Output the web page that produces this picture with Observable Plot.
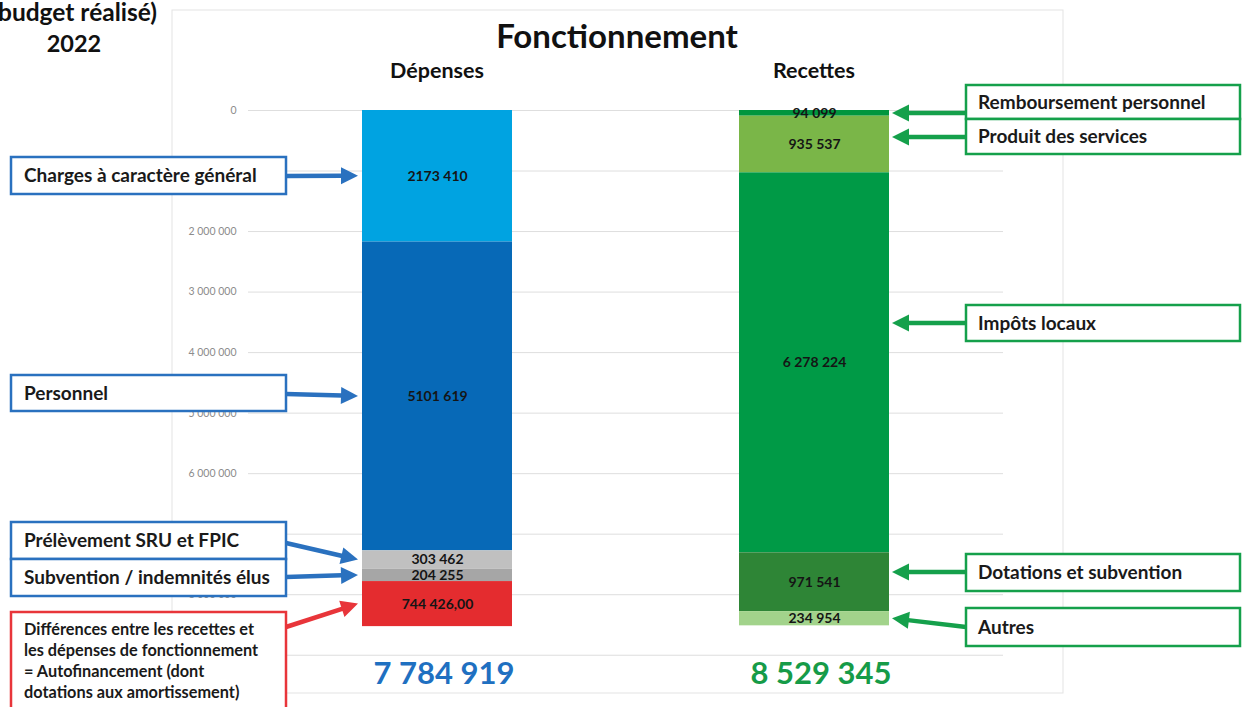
<!DOCTYPE html>
<html><head><meta charset="utf-8">
<script src="https://cdn.jsdelivr.net/npm/d3@7"></script>
<script src="https://cdn.jsdelivr.net/npm/@observablehq/plot@0.6"></script>
<style>body{margin:0;background:#fff;} svg{display:block}</style>
</head><body><div id="chart"></div>
<script>
// ---------- DATA ----------
const sides = ["Dépenses", "Recettes"];
const depCategories = ["Charges à caractère général", "Personnel", "Prélèvement SRU et FPIC", "Subvention / indemnités élus", "Autofinancement"];
const depValues = [2173410, 5101619, 303462, 204255, 744426];
const depLabels = ["2173 410", "5101 619", "303 462", "204 255", "744 426,00"];
const recCategories = ["Remboursement personnel", "Produit des services", "Impôts locaux", "Dotations et subvention", "Autres"];
const recValues = [94099, 935537, 6278224, 971541, 234954];
const recLabels = ["94 099", "935 537", "6 278 224", "971 541", "234 954"];
const totals = ["7 784 919", "8 529 345"];
const yTicks = [0, 1000000, 2000000, 3000000, 4000000, 5000000, 6000000, 7000000, 8000000, 9000000];
// tick labels visible in the reference (the others are covered by the call-out boxes)
const yTickLabels = [0, 2000000, 3000000, 4000000, 5000000, 6000000, 8000000];
const chartTitle = "Fonctionnement";
const cornerTitle = ["(budget réalisé)", "2022"];
const autofinText = ["Différences entre les recettes et", "les dépenses de fonctionnement", "= Autofinancement (dont", "dotations aux amortissement)"];

// ---------- STYLES ----------
const depColors = ["#00a3e1", "#0769b7", "#c0c0c0", "#a6a6a6", "#e42c2f"];
const recColors = ["#00963e", "#7ab648", "#009a46", "#2e8536", "#a2d38b"];
const BLUE = "#2a71bf", GREEN = "#15a04b", RED = "#e8353a";
const FONT = "Lato, 'Open Sans', sans-serif";

function buildRows(side, cats, vals, labels, colors) {
  let acc = 0;
  return cats.map((c, i) => {
    const y1 = acc; acc += vals[i];
    return {side, cat: c, y1, y2: acc, mid: (y1 + acc) / 2, label: labels[i], color: colors[i]};
  });
}
const rows = [
  ...buildRows(sides[0], depCategories, depValues, depLabels, depColors),
  ...buildRows(sides[1], recCategories, recValues, recLabels, recColors)
];
const fmt = d => d3.format(",")(d).replace(/,/g, " ");

const plot = Plot.plot({
  width: 1242, height: 707,
  marginTop: 110, marginBottom: 22, marginLeft: 248, marginRight: 239,
  style: {fontFamily: FONT, background: "white", overflow: "visible"},
  x: {domain: sides, paddingInner: 0.602, paddingOuter: 0.3023, axis: null},
  y: {domain: [0, 9500000], reverse: true, axis: null},
  marks: [
    Plot.gridY(yTicks, {stroke: "#dedede", strokeOpacity: 1}),
    Plot.axisY(yTickLabels, {tickSize: 0, tickPadding: 12, tickFormat: fmt, fill: "#8c8c8c", fontSize: 10.5, label: null}),
    Plot.barY(rows, {x: "side", y1: "y1", y2: "y2", fill: "color"}),
    Plot.text(rows, {x: "side", y: "mid", text: "label", fontSize: 14, fontWeight: "bold", fill: "#151515"})
  ]
});
document.getElementById("chart").append(plot);

// ---------- ANNOTATIONS ----------
const svg = d3.select(plot);
const xs = plot.scale("x"), ys = plot.scale("y");
const bw = xs.bandwidth;
const depLeft = xs.apply(sides[0]), recLeft = xs.apply(sides[1]);

// chart-area border (behind everything)
svg.insert("rect", ":first-child").attr("x", 172).attr("y", 10).attr("width", 891).attr("height", 683)
  .attr("fill", "none").attr("stroke", "#e3e3e3");

const g = svg.append("g").attr("font-family", FONT);

g.append("text").attr("x", 617).attr("y", 48).attr("text-anchor", "middle")
  .attr("font-size", 33).attr("font-weight", "bold").attr("fill", "#111").text(chartTitle);
sides.forEach((s, i) => {
  g.append("text").attr("x", xs.apply(s) + bw / 2).attr("y", 78).attr("text-anchor", "middle")
    .attr("font-size", 21.5).attr("font-weight", "bold").attr("fill", "#111").text(s);
  g.append("text").attr("x", xs.apply(s) + bw / 2 + 7).attr("y", 684).attr("text-anchor", "middle")
    .attr("font-size", 31).attr("font-weight", "bold").attr("fill", i === 0 ? "#1f70c1" : "#169b48").text(totals[i]);
});
g.append("text").attr("x", 157).attr("y", 21).attr("text-anchor", "end")
  .attr("font-size", 24.5).attr("font-weight", "bold").attr("fill", "#111").text(cornerTitle[0]);
g.append("text").attr("x", 74).attr("y", 52).attr("text-anchor", "middle")
  .attr("font-size", 23.5).attr("font-weight", "bold").attr("fill", "#111").text(cornerTitle[1]);

function arrow(x1, y1, x2, y2, color) {
  const dx = x2 - x1, dy = y2 - y1, len = Math.hypot(dx, dy);
  const ux = dx / len, uy = dy / len, L = 17, W = 8.5;
  const bx = x2 - ux * L, by = y2 - uy * L;
  g.append("line").attr("x1", x1).attr("y1", y1).attr("x2", bx + ux).attr("y2", by + uy)
    .attr("stroke", color).attr("stroke-width", 4.5);
  g.append("polygon").attr("points", [[x2, y2], [bx - uy * W, by + ux * W], [bx + uy * W, by - ux * W]].map(p => p.join(",")).join(" "))
    .attr("fill", color);
}
function box(x, y, w, h, color) {
  g.append("rect").attr("x", x).attr("y", y).attr("width", w).attr("height", h)
    .attr("fill", "white").attr("stroke", color).attr("stroke-width", 2.5);
}
function label(x, y, txt, size) {
  g.append("text").attr("x", x).attr("y", y).attr("text-anchor", "start").attr("font-size", size).attr("font-weight", "bold")
    .attr("fill", "#1a1a1a").text(txt);
}

// layout of callout boxes (pixels) : top, height, arrow tail y, arrow tip mode
const leftLayout = [
  {top: 157, h: 37, tail: 176, tip: "mid"},
  {top: 375, h: 36, tail: 394, tip: "mid"},
  {top: 522, h: 37, tail: 543, tip: "mid"},
  {top: 559, h: 37, tail: 577, tip: "mid"}
];
leftLayout.forEach((L, i) => {
  const r = rows[i];
  arrow(286, L.tail, depLeft - 4, ys.apply(r.mid), BLUE);
  box(11, L.top, 275, L.h, BLUE);
  label(24, L.top + L.h / 2 + 6.5, depCategories[i], 19);
});
// autofinancement (red)
arrow(286, 627, depLeft - 4, ys.apply(rows[4].mid), RED);
box(11, 612, 275, 110, RED);
autofinText.forEach((t, k) => label(24, 635 + k * 21, t, 16.3));

const rightLayout = [
  {top: 85, h: 34, tail: 113, tip: "level"},
  {top: 119, h: 35, tail: 137, tip: "level"},
  {top: 305, h: 36, tail: 323, tip: "level"},
  {top: 554, h: 37, tail: 572, tip: "level"},
  {top: 608, h: 38, tail: 627, tip: "mid"}
];
rightLayout.forEach((L, i) => {
  const r = rows[5 + i];
  const tipY = L.tip === "mid" ? ys.apply(r.mid) : L.tail;
  arrow(966, L.tail, recLeft + bw + 3, tipY, GREEN);
  box(966, L.top, 274, L.h, GREEN);
  label(978, L.top + L.h / 2 + 6.5, recCategories[i], 19);
});
</script>
</body></html>
